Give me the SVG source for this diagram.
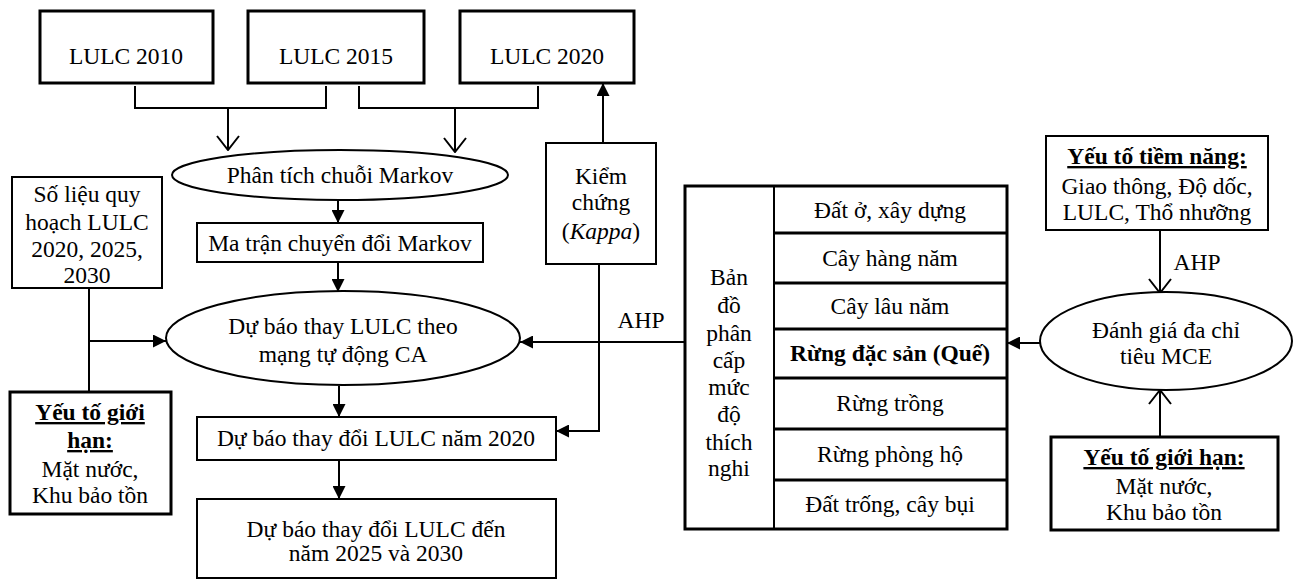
<svg xmlns="http://www.w3.org/2000/svg" width="1295" height="579" viewBox="0 0 1295 579">
<style>
text{font-family:"Liberation Serif","Times New Roman",serif;font-size:23.5px;fill:#000;text-anchor:middle}
.b{font-weight:bold}
.u{text-decoration:underline}
.box{fill:#fff;stroke:#000;stroke-width:2}
.tb{fill:#fff;stroke:#000;stroke-width:3}
.ln{fill:none;stroke:#000;stroke-width:2}
</style>
<defs>
<marker id="fa" viewBox="0 0 13 13" refX="13" refY="6.5" markerWidth="13" markerHeight="13" markerUnits="userSpaceOnUse" orient="auto"><path d="M0,0 L13,6.5 L0,13 z" fill="#000"/></marker>
<marker id="oa" viewBox="0 0 16 24" refX="15" refY="12" markerWidth="16" markerHeight="24" markerUnits="userSpaceOnUse" orient="auto"><path d="M1,1 L15,12 L1,23" fill="none" stroke="#000" stroke-width="2"/></marker>
</defs>
<g id="connectors">
<polyline class="ln" points="135,86 135,108 326,108 326,86"/>
<line class="ln" x1="228" y1="108" x2="228" y2="150" marker-end="url(#oa)"/>
<polyline class="ln" points="359,86 359,108 538,108 538,86"/>
<line class="ln" x1="455" y1="108" x2="455" y2="152" marker-end="url(#oa)"/>
<line class="ln" x1="338" y1="200" x2="338" y2="223" marker-end="url(#fa)"/>
<line class="ln" x1="338" y1="262" x2="338" y2="292" marker-end="url(#fa)"/>
<line class="ln" x1="89" y1="288" x2="89" y2="392"/>
<line class="ln" x1="89" y1="341" x2="166" y2="341" marker-end="url(#fa)"/>
<line class="ln" x1="339" y1="386" x2="339" y2="417" marker-end="url(#fa)"/>
<line class="ln" x1="339" y1="460" x2="339" y2="499" marker-end="url(#fa)"/>
<line class="ln" x1="603" y1="143" x2="603" y2="83" marker-end="url(#fa)"/>
<polyline class="ln" points="599,264 599,431 556,431" marker-end="url(#fa)"/>
<line class="ln" x1="684" y1="342" x2="520" y2="342" marker-end="url(#fa)"/>
<line class="ln" x1="1040" y1="343" x2="1007" y2="343" marker-end="url(#fa)"/>
<line class="ln" x1="1160" y1="230" x2="1160" y2="293" marker-end="url(#oa)"/>
<line class="ln" x1="1160" y1="437" x2="1160" y2="390" marker-end="url(#oa)"/>
<text x="641" y="328">AHP</text>
<text x="1197" y="270">AHP</text>
</g>
<g id="lulc2010"><rect class="tb" x="40" y="11" width="173" height="72"/><text x="126" y="64">LULC 2010</text></g>
<g id="lulc2015"><rect class="tb" x="248" y="11" width="176" height="72"/><text x="336" y="64">LULC 2015</text></g>
<g id="lulc2020"><rect class="tb" x="460" y="11" width="174" height="72"/><text x="547" y="64">LULC 2020</text></g>
<g id="markov"><ellipse class="box" cx="340" cy="175" rx="168" ry="25"/><text x="340" y="183">Phân tích chuỗi Markov</text></g>
<g id="matran"><rect class="box" x="197" y="223" width="286" height="39"/><text x="340" y="251">Ma trận chuyển đổi Markov</text></g>
<g id="ca"><ellipse class="box" cx="343" cy="338" rx="177" ry="47"/><text x="343" y="334">Dự báo thay LULC theo</text><text x="343" y="362">mạng tự động CA</text></g>
<g id="solieu"><rect class="box" x="12" y="177" width="150" height="111"/>
<text x="87" y="202">Số liệu quy</text><text x="87" y="230">hoạch LULC</text><text x="87" y="257">2020, 2025,</text><text x="87" y="283">2030</text></g>
<g id="gioihan1"><rect class="tb" x="10" y="392" width="161" height="122"/>
<text x="90" y="420" class="b u">Yếu tố giới</text><text x="90" y="448" class="b u">hạn:</text><text x="90" y="477">Mặt nước,</text><text x="90" y="503">Khu bảo tồn</text></g>
<g id="du2020"><rect class="box" x="197" y="417" width="359" height="43"/><text x="376" y="446">Dự báo thay đổi LULC năm 2020</text></g>
<g id="du2030"><rect class="box" x="197" y="499" width="359" height="79"/><text x="376" y="537">Dự báo thay đổi LULC đến</text><text x="376" y="561">năm 2025 và 2030</text></g>
<g id="kiemchung"><rect class="box" x="546" y="143" width="110" height="121"/>
<text x="601" y="184">Kiểm</text><text x="601" y="210">chứng</text><text x="601" y="239">(<tspan font-style="italic">Kappa</tspan>)</text></g>
<g id="bando">
<rect class="tb" x="685" y="186" width="322" height="343"/>
<line class="ln" x1="774" y1="186" x2="774" y2="529" stroke-width="3"/>
<g class="ln" style="stroke-width:3">
<line x1="774" y1="233" x2="1007" y2="233"/><line x1="774" y1="283" x2="1007" y2="283"/><line x1="774" y1="329" x2="1007" y2="329"/><line x1="774" y1="378" x2="1007" y2="378"/><line x1="774" y1="429" x2="1007" y2="429"/><line x1="774" y1="480" x2="1007" y2="480"/>
</g>
<text x="729" y="285">Bản</text><text x="729" y="313">đồ</text><text x="729" y="341">phân</text><text x="729" y="368">cấp</text><text x="729" y="395">mức</text><text x="729" y="422">độ</text><text x="729" y="450">thích</text><text x="729" y="476">nghi</text>
<text x="890" y="218">Đất ở, xây dựng</text>
<text x="890" y="266">Cây hàng năm</text>
<text x="890" y="314">Cây lâu năm</text>
<text x="890" y="361" class="b">Rừng đặc sản (Quế)</text>
<text x="890" y="411">Rừng trồng</text>
<text x="890" y="462">Rừng phòng hộ</text>
<text x="890" y="512">Đất trống, cây bụi</text>
</g>
<g id="tiemnang"><rect class="box" x="1046" y="136" width="222" height="94"/>
<text x="1157" y="164" class="b u">Yếu tố tiềm năng:</text><text x="1157" y="194">Giao thông, Độ dốc,</text><text x="1157" y="220">LULC, Thổ nhưỡng</text></g>
<g id="mce"><ellipse class="box" cx="1166" cy="341" rx="126" ry="49"/><text x="1166" y="338">Đánh giá đa chỉ</text><text x="1166" y="364">tiêu MCE</text></g>
<g id="gioihan2"><rect class="tb" x="1051" y="437" width="227" height="93"/>
<text x="1164" y="465" class="b u">Yếu tố giới hạn:</text><text x="1164" y="494">Mặt nước,</text><text x="1164" y="520">Khu bảo tồn</text></g>
</svg>
